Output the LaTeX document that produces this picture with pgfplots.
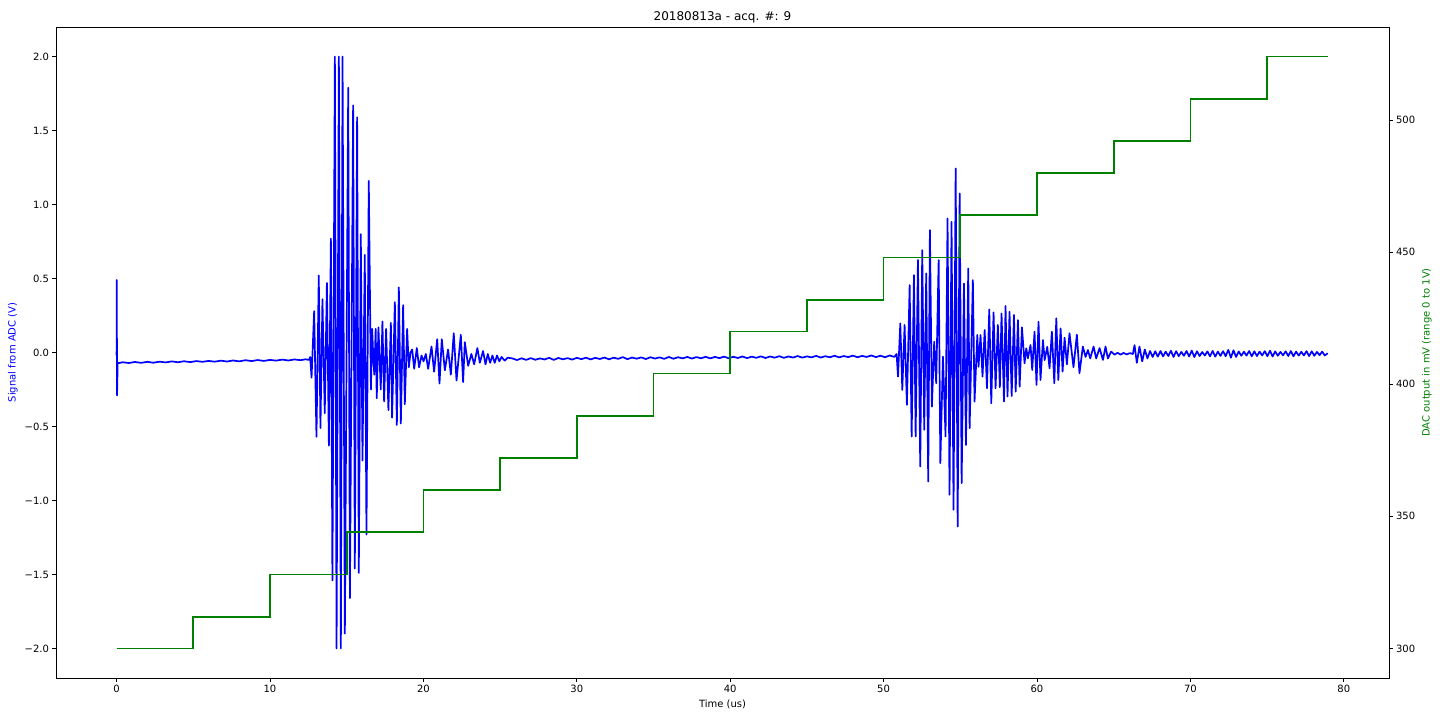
\documentclass[border=0pt]{standalone}
\usepackage{fontspec}
\setmainfont{DejaVu Sans}
\usepackage{pgfplots}
\pgfplotsset{compat=1.18}
\definecolor{mplblue}{rgb}{0,0,1}
\definecolor{mplgreen}{rgb}{0,0.5,0}
\begin{document}
\begin{tikzpicture}
\useasboundingbox (-56pt,-42pt) rectangle (1384pt,678pt);
\pgfplotsset{every axis/.append style={
  scale only axis,width=1333pt,height=651pt,
  xmin=-3.95,xmax=82.95,
  tick align=outside,major tick length=3.5pt,
  tick style={black,line width=0.8pt},
  axis line style={line width=0.8pt},
  tick label style={font=\fontsize{10}{12}\selectfont},
  label style={font=\fontsize{10}{12}\selectfont},
  /pgf/number format/assume math mode=true}}
\begin{axis}[ymin=-2.2,ymax=2.2,
  xtick={0,10,...,80},ytick={-2,-1.5,...,2},
  yticklabels={−2.0,−1.5,−1.0,−0.5,0.0,0.5,1.0,1.5,2.0},
  xtick pos=left,ytick pos=left,
  xlabel={Time (us)},ylabel={Signal from ADC (V)},ylabel style={mplblue},
  title={20180813a - acq. \#: 9},title style={font=\fontsize{12}{14}\selectfont,yshift=-6pt}]
\addplot[mplblue,line width=1.7pt,line join=round] coordinates {
(0.00,-0.02)(0.01,0.49)(0.03,-0.29)(0.07,-0.07)
(0.10,-0.072)(0.4,-0.066)(0.8,-0.071)(1.2,-0.064)(1.6,-0.070)(2.0,-0.063)(2.4,-0.069)(2.8,-0.062)(3.2,-0.067)(3.6,-0.060)
(4.0,-0.066)(4.4,-0.059)(4.8,-0.065)(5.2,-0.058)(5.6,-0.063)(6.0,-0.057)(6.4,-0.062)(6.8,-0.055)(7.2,-0.061)(7.6,-0.054)
(8.0,-0.060)(8.4,-0.052)(8.8,-0.058)(9.2,-0.051)(9.6,-0.057)(10.0,-0.050)(10.4,-0.055)(10.8,-0.048)(11.2,-0.054)(11.6,-0.047)
(12.0,-0.052)(12.3,-0.046)(12.55,-0.050)(12.62,-0.030)
(12.71,-0.17)(12.88,0.28)(13.03,-0.57)(13.18,0.52)(13.29,-0.51)(13.42,0.36)(13.57,-0.41)(13.71,0.47)(13.84,-0.63)(13.97,0.77)
(14.07,-1.54)(14.23,2.0)(14.34,-2.0)(14.49,2.0)(14.62,-2.0)(14.73,2.0)(14.88,-1.9)(15.10,1.79)(15.21,-1.66)(15.42,1.67)
(15.53,-1.46)(15.68,1.59)(15.79,-1.49)(15.92,0.8)(16.03,-0.73)(16.18,0.66)(16.29,-1.23)(16.44,1.16)
(16.58,-0.25)(16.66,0.16)(16.74,-0.05)(16.80,-0.15)(16.89,0.16)(16.96,-0.31)(17.07,0.17)(17.22,-0.25)(17.33,0.21)(17.44,-0.33)
(17.57,0.16)(17.72,-0.39)(17.88,0.20)(17.96,-0.44)(18.14,0.34)(18.27,-0.49)(18.40,0.44)(18.53,-0.48)(18.68,0.32)(18.79,-0.35)
(18.94,0.16)(19.05,-0.10)(19.16,0.00)(19.27,0.02)(19.40,-0.11)(19.57,0.03)(19.72,-0.10)(19.88,-0.02)(20.01,-0.06)(20.16,-0.01)
(20.31,-0.11)(20.53,0.04)(20.70,-0.13)(20.90,0.09)(21.05,-0.21)(21.20,0.09)(21.40,-0.12)(21.61,0.02)(21.79,-0.15)(21.98,0.13)
(22.16,-0.19)(22.44,0.12)(22.59,-0.20)(22.70,0.07)(22.92,-0.09)(23.13,-0.01)(23.31,-0.08)(23.52,0.03)(23.68,-0.07)(23.89,0.01)
(24.05,-0.08)(24.2,-0.01)(24.35,-0.07)(24.5,-0.02)(24.65,-0.07)(24.8,-0.02)(24.95,-0.06)(25.1,-0.03)(25.3,-0.055)(25.5,-0.035)
(25.8,-0.040)(26.1,-0.051)(26.4,-0.039)(26.7,-0.050)(27.0,-0.038)(27.3,-0.049)(27.6,-0.040)(27.9,-0.047)(28.2,-0.036)(28.5,-0.050)
(28.8,-0.037)(29.1,-0.046)(29.4,-0.038)(29.7,-0.048)(30.0,-0.036)(30.3,-0.045)(30.6,-0.035)(30.9,-0.047)(31.2,-0.036)(31.5,-0.044)
(31.8,-0.034)(32.1,-0.046)(32.4,-0.035)(32.7,-0.043)(33.0,-0.031)(33.3,-0.045)(33.6,-0.034)(33.9,-0.042)(34.2,-0.033)(34.5,-0.044)
(34.8,-0.032)(35.1,-0.041)(35.4,-0.033)(35.7,-0.043)(36.0,-0.030)(36.3,-0.042)(36.6,-0.032)(36.9,-0.040)(37.2,-0.030)(37.5,-0.041)
(37.8,-0.031)(38.1,-0.039)(38.4,-0.029)(38.7,-0.040)(39.0,-0.030)(39.3,-0.038)(39.6,-0.028)(39.9,-0.039)(40.2,-0.029)(40.5,-0.037)
(40.8,-0.027)(41.1,-0.038)(41.4,-0.028)(41.7,-0.036)(42.0,-0.026)(42.3,-0.037)(42.6,-0.027)(42.9,-0.035)(43.2,-0.025)(43.5,-0.036)
(43.8,-0.027)(44.1,-0.034)(44.4,-0.024)(44.7,-0.035)(45.0,-0.026)(45.3,-0.033)(45.6,-0.023)(45.9,-0.034)(46.2,-0.025)(46.5,-0.032)
(46.8,-0.022)(47.1,-0.033)(47.4,-0.024)(47.7,-0.031)(48.0,-0.021)(48.3,-0.032)(48.6,-0.023)(48.9,-0.030)(49.2,-0.020)(49.5,-0.031)
(49.8,-0.022)(50.1,-0.032)(50.4,-0.020)(50.7,-0.030)(50.85,-0.010)
(50.94,-0.163)(51.09,0.197)(51.22,-0.253)(51.37,0.186)(51.52,-0.354)(51.70,0.456)(51.83,-0.568)(51.98,0.523)(52.09,-0.568)(52.24,0.625)
(52.39,-0.771)(52.52,0.692)(52.65,-0.523)(52.78,0.535)(52.91,-0.872)(53.02,0.827)(53.15,-0.366)(53.30,0.073)(53.43,-0.208)(53.59,0.625)
(53.70,-0.748)(53.87,-0.028)(54.04,-0.568)(54.17,0.906)(54.30,-0.962)(54.43,0.883)(54.56,-1.063)(54.70,1.244)(54.83,-1.176)(54.96,1.075)
(55.09,-0.883)(55.24,0.467)(55.37,-0.625)(55.52,0.568)(55.61,-0.512)(55.82,0.490)(55.93,-0.332)
(56.11,0.118)(56.19,-0.096)(56.32,0.118)(56.45,-0.163)(56.59,0.152)(56.74,-0.242)(56.89,0.291)(57.02,-0.343)(57.17,0.271)(57.30,-0.242)
(57.45,0.186)(57.58,-0.235)(57.69,0.264)(57.85,-0.332)(57.95,0.314)(58.08,-0.298)(58.21,0.276)(58.35,-0.294)(58.50,0.253)(58.61,-0.265)
(58.76,0.219)(58.87,-0.231)(59.02,0.170)(59.19,-0.073)(59.30,0.028)(59.41,-0.039)(59.58,0.051)(59.69,-0.118)(59.84,0.141)(59.97,-0.219)
(60.10,0.208)(60.23,-0.186)(60.39,0.084)(60.50,-0.051)(60.67,0.039)(60.82,-0.107)(60.97,0.141)(61.13,-0.208)(61.26,0.231)(61.39,-0.186)
(61.54,0.163)(61.67,-0.129)(61.80,0.10)(61.95,-0.08)(62.12,0.13)(62.38,-0.10)(62.60,0.12)(62.77,-0.14)(62.99,0.04)(63.17,-0.03)
(63.32,0.017)(63.47,-0.04)(63.69,0.04)(63.86,-0.04)(64.08,0.03)(64.30,-0.05)(64.47,0.04)(64.62,-0.04)(64.84,0.006)(65.06,-0.015)
(65.25,-0.002)(65.45,-0.014)(65.65,-0.003)(65.85,-0.013)(66.05,-0.004)(66.25,-0.010)(66.36,0.05)(66.51,-0.07)(66.68,0.04)(66.86,-0.06)
(67.03,0.02)(67.20,-0.04)(67.37,0.01)(67.54,-0.03)(67.71,0.008)(67.88,-0.028)(68.05,0.010)(68.22,-0.026)(68.39,0.006)(68.56,-0.024)
(68.73,0.012)(68.90,-0.030)(69.07,0.009)(69.24,-0.025)(69.41,0.004)(69.58,-0.022)(69.75,0.010)(69.92,-0.027)(70.09,0.013)(70.26,-0.031)
(70.43,0.008)(70.60,-0.024)(70.77,0.003)(70.94,-0.020)(71.11,0.007)(71.28,-0.026)(71.45,0.011)(71.62,-0.028)(71.79,0.006)(71.96,-0.023)
(72.13,0.009)(72.30,-0.025)(72.47,0.018)(72.64,-0.035)(72.81,0.015)(72.98,-0.030)(73.15,0.007)(73.32,-0.022)(73.49,0.005)(73.66,-0.021)
(73.83,0.010)(74.00,-0.026)(74.17,0.008)(74.34,-0.024)(74.51,0.006)(74.68,-0.020)(74.85,0.009)(75.02,-0.025)(75.19,0.012)(75.36,-0.027)
(75.53,0.007)(75.70,-0.022)(75.87,0.004)(76.04,-0.019)(76.21,0.008)(76.38,-0.024)(76.55,0.010)(76.72,-0.026)(76.89,0.006)(77.06,-0.021)
(77.23,0.005)(77.40,-0.020)(77.57,0.009)(77.74,-0.024)(77.91,0.008)(78.08,-0.022)(78.25,0.004)(78.42,-0.018)(78.59,0.006)(78.76,-0.020)
(78.96,-0.005)};
\end{axis}
\begin{axis}[ymin=288.8,ymax=535.2,
  axis x line=none,axis y line*=right,
  tick align=outside,
  ytick={300,350,...,500},yticklabel pos=right,
  ylabel={DAC output in mV (range 0 to 1V)},ylabel near ticks,ylabel style={mplgreen}]
\addplot[const plot,mplgreen,line width=1.7pt] coordinates {
(0,300)(5,312)(10,328)(15,344)(20,360)(25,372)(30,388)(35,404)(40,420)(45,432)
(50,448)(55,464)(60,480)(65,492)(70,508)(75,524)(79,524)};
\end{axis}
\end{tikzpicture}
\end{document}
